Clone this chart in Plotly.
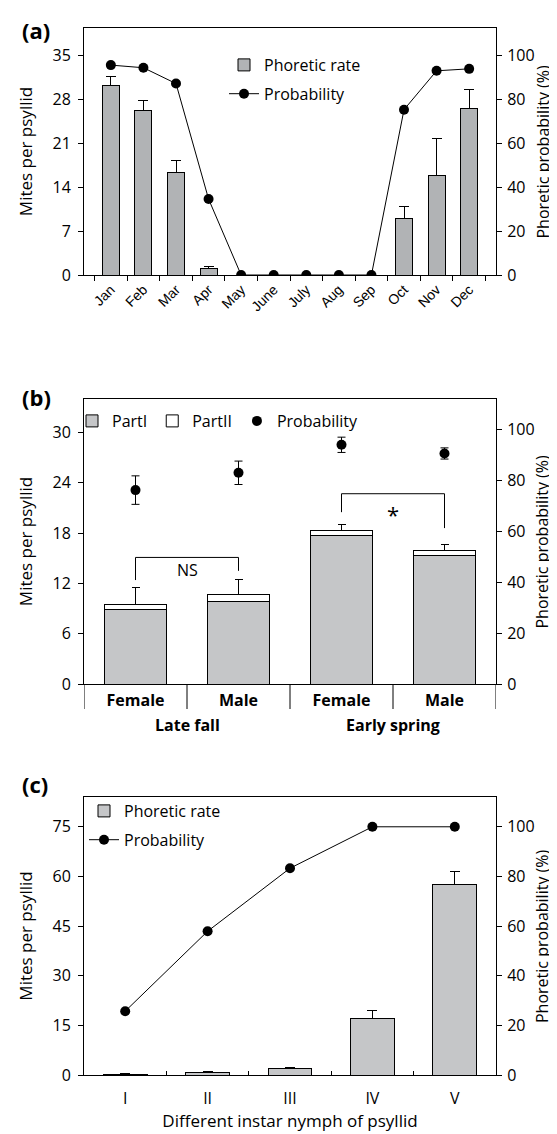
import plotly.graph_objects as go

W, H = 557, 1134

# ---------------- data ----------------
months = ["Jan", "Feb", "Mar", "Apr", "May", "June", "July", "Aug", "Sep", "Oct", "Nov", "Dec"]
rate_a = [30.2, 26.2, 16.3, 1.1, 0, 0, 0, 0, 0, 9.0, 15.8, 26.6]
rate_a_err = [1.5, 1.6, 1.9, 0.3, 0, 0, 0, 0, 0, 2.0, 5.9, 3.0]
prob_a = [95.6, 94.4, 87.2, 34.6, 0, 0, 0, 0, 0, 75.3, 93.0, 93.9]

sexes = ["Female", "Male", "Female", "Male"]
seasons = ["Late fall", "Early spring"]
part1_b = [8.94, 9.85, 17.68, 15.34]
part2_b = [0.52, 0.80, 0.60, 0.59]
total_err_b = [2.06, 1.82, 0.75, 0.67]
prob_b = [76.2, 83.0, 94.0, 90.6]
prob_b_err = [5.6, 4.6, 3.0, 2.2]
ns_bracket = [12.4, 15.1, 13.5]     # left leg, bar, right leg (mites)
star_bracket = [20.5, 22.7, 18.6]

instars = ["I", "II", "III", "IV", "V"]
rate_c = [0.3, 0.9, 2.1, 17.1, 57.7]
rate_c_err = [0.1, 0.1, 0.3, 2.3, 3.8]
prob_c = [25.7, 57.9, 83.3, 100, 100]

# ---------------- helpers ----------------
def px(x):
    return x / W

def py(y):
    return 1 - y / H

XL, XR = 76, 488
PANELS = {"a": (20, 267), "b": (391, 676), "c": (789, 1067)}
FONT = "Open Sans"
BAR_A = "#b1b3b5"
BAR_BC = "#c5c6c8"

fig = go.Figure()

# panel a
fig.add_trace(go.Bar(
    x=months, y=rate_a, name="Phoretic rate", width=0.52,
    marker=dict(color=BAR_A, line=dict(color="black", width=1)),
    error_y=dict(type="data", array=rate_a_err, arrayminus=[0] * len(months), symmetric=False,
                 color="black", thickness=1, width=5),
    xaxis="x", yaxis="y", legend="legend", legendgroup="a1"))
fig.add_trace(go.Scatter(
    x=months, y=prob_a, name="Probability", mode="lines+markers",
    line=dict(color="black", width=1), marker=dict(color="black", size=10),
    xaxis="x", yaxis="y2", legend="legend", legendgroup="a2"))

# panel b
xb = list(range(len(sexes)))
fig.add_trace(go.Bar(
    x=xb, y=part1_b, name="PartI", width=0.61,
    marker=dict(color=BAR_BC, line=dict(color="black", width=1)),
    xaxis="x2", yaxis="y3", legend="legend2"))
fig.add_trace(go.Bar(
    x=xb, y=part2_b, name="PartII", width=0.61,
    marker=dict(color="white", line=dict(color="black", width=1)),
    error_y=dict(type="data", array=total_err_b, arrayminus=[0] * len(xb), symmetric=False,
                 color="black", thickness=1, width=4),
    xaxis="x2", yaxis="y3", legend="legend2"))
fig.add_trace(go.Scatter(
    x=xb, y=prob_b, name="Probability", mode="markers",
    marker=dict(color="black", size=10),
    error_y=dict(type="data", array=prob_b_err, color="black", thickness=1, width=4),
    xaxis="x2", yaxis="y4", legend="legend2"))

# panel c
fig.add_trace(go.Bar(
    x=instars, y=rate_c, name="Phoretic rate", width=0.53,
    marker=dict(color=BAR_BC, line=dict(color="black", width=1)),
    error_y=dict(type="data", array=rate_c_err, arrayminus=[0] * len(instars), symmetric=False,
                 color="black", thickness=1, width=5),
    xaxis="x3", yaxis="y5", legend="legend3", legendgroup="c1"))
fig.add_trace(go.Scatter(
    x=instars, y=prob_c, name="Probability", mode="lines+markers",
    line=dict(color="black", width=1), marker=dict(color="black", size=10),
    xaxis="x3", yaxis="y6", legend="legend3", legendgroup="c2"))

tick_font = dict(family=FONT, size=16, color="black")
title_font = dict(family=FONT, size=17, color="black")
rtitle_font = dict(family=FONT, size=16, color="black")

def yleft(dom, rng, tickvals, anchor):
    return dict(domain=dom, range=rng, tickvals=tickvals, anchor=anchor, showline=True,
                linecolor="black", linewidth=1, ticks="outside", ticklen=5, tickcolor="black",
                showgrid=False, zeroline=False, tickfont=tick_font, automargin=False,
                ticklabelstandoff=4,
                title=dict(text="Mites per psyllid", font=title_font, standoff=15))

def yright(rng, overlay, anchor):
    return dict(range=rng, tickvals=[0, 20, 40, 60, 80, 100], overlaying=overlay, side="right",
                anchor=anchor, showline=True, linecolor="black", linewidth=1, ticks="outside",
                ticklen=5, tickcolor="black", showgrid=False, zeroline=False, tickfont=tick_font,
                automargin=False, ticklabelstandoff=2)

def dom(key):
    t, b = PANELS[key]
    return [py(b), py(t)]

xdom = [px(XL), px(XR)]
leg_font = dict(family=FONT, size=16, color="black")

fig.update_layout(
    width=W, height=H, autosize=False, template="none",
    margin=dict(l=0, r=0, t=0, b=0),
    paper_bgcolor="white", plot_bgcolor="white",
    barmode="stack", bargap=0.4,
    font=dict(family=FONT, color="black"),
    xaxis=dict(domain=xdom, anchor="y", showline=True, linecolor="black", linewidth=1, mirror=True,
               ticks="outside", ticklen=5, tickcolor="black", tickson="boundaries", tickangle=-45,
               showgrid=False, automargin=False,
               tickfont=dict(family="Liberation Sans", size=14, color="black")),
    yaxis=yleft(dom("a"), [0, 39.375], [0, 7, 14, 21, 28, 35], "x"),
    yaxis2=yright([0, 112.5], "y", "x"),
    xaxis2=dict(domain=xdom, anchor="y3", type="linear", range=[-0.5, 3.5], tickvals=xb,
                ticktext=sexes, showline=True, linecolor="black", linewidth=1, mirror=True,
                ticks="", showgrid=False, zeroline=False, automargin=False, ticklabelstandoff=2,
                tickfont=dict(family=FONT, size=16, color="black", weight="bold")),
    yaxis3=yleft(dom("b"), [0, 34], [0, 6, 12, 18, 24, 30], "x2"),
    yaxis4=yright([0, 112], "y3", "x2"),
    xaxis3=dict(domain=xdom, anchor="y5", showline=True, linecolor="black", linewidth=1, mirror=True,
                ticks="inside", ticklen=4, tickcolor="black", tickson="boundaries",
                showgrid=False, automargin=False, tickfont=tick_font, ticklabelstandoff=9,
                title=dict(text="Different instar nymph of psyllid", font=title_font, standoff=4)),
    yaxis5=yleft(dom("c"), [0, 84], [0, 15, 30, 45, 60, 75], "x3"),
    yaxis6=yright([0, 112], "y5", "x3"),
    legend=dict(x=px(216), y=py(40), xanchor="left", yanchor="top", bgcolor="rgba(0,0,0,0)",
                font=leg_font, tracegroupgap=5, itemwidth=30),
    legend2=dict(x=px(64), y=py(396), xanchor="left", yanchor="top", orientation="h",
                 traceorder="normal", bgcolor="rgba(0,0,0,0)", font=leg_font, itemwidth=30),
    legend3=dict(x=px(76), y=py(786), xanchor="left", yanchor="top", bgcolor="rgba(0,0,0,0)",
                 font=leg_font, tracegroupgap=5, itemwidth=30),
)

# right-axis titles
for key in PANELS:
    t, b = PANELS[key]
    fig.add_annotation(text="Phoretic probability (%)", textangle=-90, x=px(547), y=py((t + b) / 2),
                       xref="paper", yref="paper", xanchor="right", yanchor="middle",
                       showarrow=False, font=rtitle_font)

# panel letters
for key, ytxt in (("a", 22), ("b", 389), ("c", 776)):
    fig.add_annotation(text="<b>(%s)</b>" % key, x=px(12), y=py(ytxt), xref="paper", yref="paper",
                       xanchor="left", yanchor="middle", showarrow=False,
                       font=dict(family=FONT, size=22, color="black"))

# panel b: dividers, group labels, brackets
for xv in [-0.5, 0.5, 1.5, 2.5, 3.5]:
    fig.add_shape(type="line", xref="x2", yref="paper", x0=xv, x1=xv, y0=py(676), y1=py(701),
                  line=dict(color="black", width=1))
for i, s in enumerate(seasons):
    fig.add_annotation(text=s, x=2 * i + 0.5, y=py(717), xref="x2", yref="paper",
                       showarrow=False, yanchor="middle",
                       font=dict(family=FONT, size=16, color="black", weight="bold"))

def bracket(x0, x1, legs, label, yl):
    fig.add_shape(type="path", xref="x2", yref="y3",
                  path="M %g,%g L %g,%g L %g,%g L %g,%g" % (x0, legs[0], x0, legs[1], x1, legs[1], x1, legs[2]),
                  line=dict(color="black", width=1))
    fig.add_annotation(text=label, x=(x0 + x1) / 2, y=yl, xref="x2", yref="y3", showarrow=False,
                       font=dict(family=FONT, size=16 if label == "NS" else 22, color="black"))

bracket(0, 1, ns_bracket, "NS", 13.6)
bracket(2, 3, star_bracket, "*", 20.3)

fig.write_html("out.html")
